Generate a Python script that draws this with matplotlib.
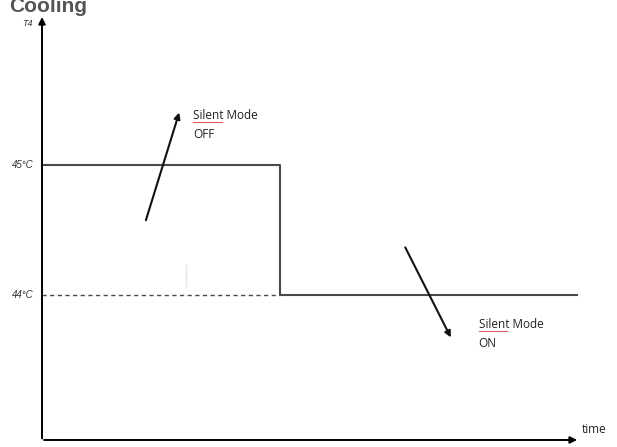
import matplotlib.pyplot as plt

# schematic data: T4 threshold vs time
time = [0, 10, 10, 22.5]
t4 = [45, 45, 44, 44]
dash_time = [0, 10]
dash_t4 = [44, 44]
tick_vals = [45, 44]
tick_labels = ['45°C', '44°C']

fig = plt.figure(figsize=(6.17, 4.47), dpi=100)
ax = fig.add_axes([0, 0, 1, 1])
ax.set_xlim(-1.765, 24.16)
ax.set_ylim(42.831, 46.269)
ax.axis('off')

y0 = 42.885
lc = '#4a4a4a'

# axes with arrow heads
ax.annotate('', xy=(0, 46.16), xytext=(0, y0 - 0.01),
            arrowprops=dict(arrowstyle='-|>', color='black', lw=1.4, mutation_scale=10))
ax.annotate('', xy=(22.6, y0), xytext=(-0.03, y0),
            arrowprops=dict(arrowstyle='-|>', color='black', lw=1.4, mutation_scale=10))

ax.plot(time, t4, color=lc, lw=1.5)
ax.plot(dash_time, dash_t4, color=lc, lw=1.0, ls=(0, (3, 2.5)))

for v, lab in zip(tick_vals, tick_labels):
    ax.text(-0.35, v, lab, ha='right', va='center', fontsize=7, style='italic',
            color='#333333', family='Liberation Sans')
ax.text(-0.4, 46.09, 'T4', ha='right', va='center', fontsize=6.5, style='italic',
        color='#333333', family='Liberation Sans')
ax.text(22.7, y0 + 0.03, 'time', ha='left', va='bottom', fontsize=8.5,
        color='#222222', family='Open Sans')

# mode arrows
ax.annotate('', xy=(5.8, 46.27 - 110 / 130), xytext=(4.33, 46.27 - 223 / 130),
            arrowprops=dict(arrowstyle='-|>', color='#111111', lw=1.5, mutation_scale=9))
ax.annotate('', xy=(17.23, 46.27 - 340 / 130), xytext=(15.21, 46.27 - 245 / 130),
            arrowprops=dict(arrowstyle='-|>', color='#111111', lw=1.5, mutation_scale=9))

fs = 8.5
ax.text(6.35, 45.31, 'Silent Mode\nOFF', ha='left', va='center', fontsize=fs,
        color='#222222', family='Open Sans', linespacing=1.6)
ax.text(18.35, 43.70, 'Silent Mode\nON', ha='left', va='center', fontsize=fs,
        color='#222222', family='Open Sans', linespacing=1.6)
# red spell-check underline under "Silent"
ax.plot([6.35, 7.55], [45.33, 45.33], color='#e06060', lw=0.8)
ax.plot([18.35, 19.55], [43.72, 43.72], color='#e06060', lw=0.8)

# faint mark
ax.plot([6.05, 6.05], [44.23, 44.07], color='#e4e4e4', lw=1)

fig.text(0.015, 0.985, 'Cooling', ha='left', va='center', fontsize=15,
         fontweight='bold', color='#555555', family='Liberation Sans')

fig.savefig('out.png', dpi=100)
